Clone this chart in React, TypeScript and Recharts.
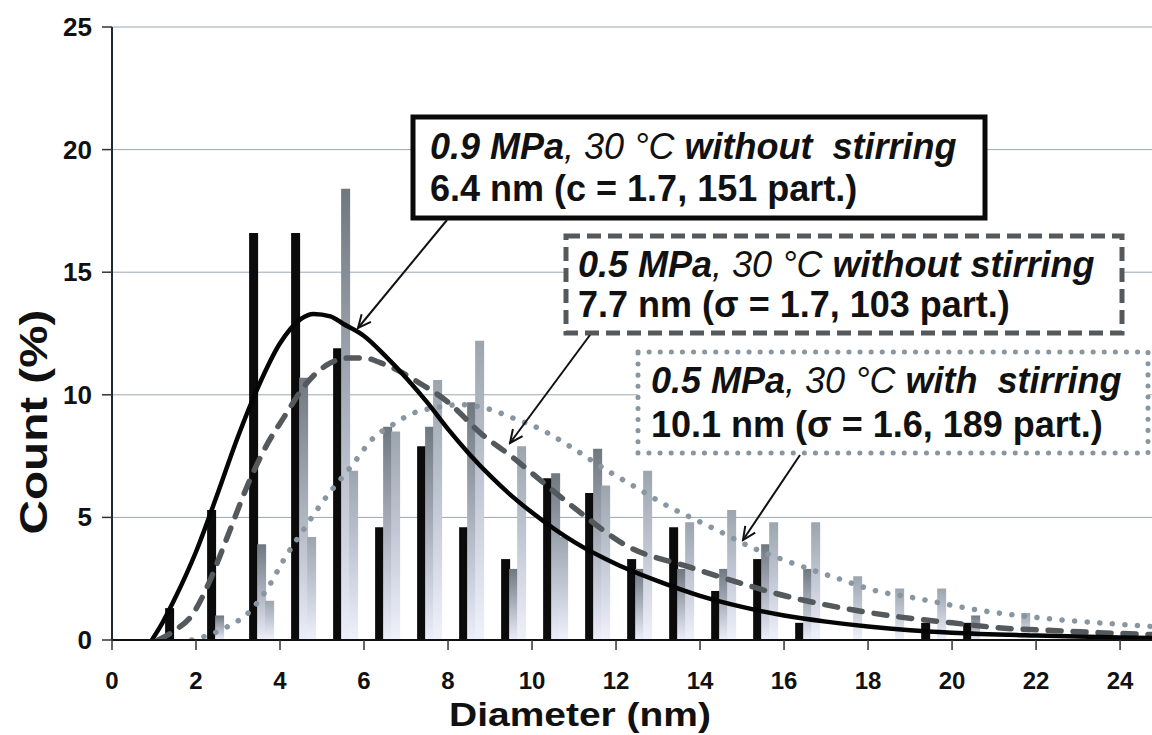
import React from 'react';
import { ComposedChart, Bar, Line, XAxis, YAxis, CartesianGrid } from 'recharts';

// Histogram bins (cluster centres, nm) and counts (%)
const binCenters = [1.55, 2.55, 3.55, 4.55, 5.55, 6.55, 7.55, 8.55, 9.55, 10.55, 11.55, 12.55, 13.55, 14.55, 15.55, 16.55, 17.55, 18.55, 19.55, 20.55, 21.55];
const count09NoStir = [1.3, 5.3, 16.6, 16.6, 11.9, 4.6, 7.9, 4.6, 3.3, 6.6, 6.0, 3.3, 4.6, 2.0, 3.3, 0.7, 0, 0, 0.7, 0.7, 0];
const count05NoStir = [0, 1.0, 3.9, 10.7, 18.4, 8.7, 8.7, 9.7, 2.9, 6.8, 7.8, 2.9, 2.9, 2.9, 3.9, 2.9, 0, 0, 0, 1.0, 0];
const count05Stir = [0, 0, 1.6, 4.2, 6.9, 8.5, 10.6, 12.2, 7.9, 4.2, 6.3, 6.9, 4.8, 5.3, 4.8, 4.8, 2.6, 2.1, 2.1, 0, 1.1];

// Log-normal fit curves
const fit09X = [0.95, 1.2, 1.5, 2.0, 2.5, 3.0, 3.5, 4.0, 4.5, 4.8, 5.2, 5.5, 6.0, 6.5, 7.0, 7.5, 8.0, 8.5, 9.0, 9.5, 10, 11, 12, 13, 14, 15, 16, 17, 18, 19, 20, 22, 24, 24.76];
const fit09Y = [0, 0.7, 1.7, 3.6, 5.9, 8.3, 10.4, 12.1, 13.1, 13.3, 13.2, 12.9, 12.4, 11.6, 10.7, 9.7, 8.6, 7.6, 6.7, 5.9, 5.2, 4.0, 3.1, 2.4, 1.8, 1.35, 1.0, 0.75, 0.55, 0.4, 0.3, 0.18, 0.1, 0.08];
const fit05NoStirX = [1.1, 1.5, 1.9, 2.3, 2.7, 3.3, 3.7, 4.1, 4.6, 5.2, 5.6, 6.0, 6.4, 6.8, 7.3, 8.0, 8.8, 9.5, 10.0, 11.0, 12.3, 13.7, 15.0, 15.8, 17.4, 18.7, 20.0, 21.1, 22.5, 23.5, 24.76];
const fit05NoStirY = [0, 0.4, 1.0, 2.3, 4.0, 6.6, 8.0, 9.1, 10.4, 11.3, 11.5, 11.5, 11.3, 11.0, 10.5, 9.7, 8.4, 7.5, 6.8, 5.4, 3.8, 3.0, 2.3, 1.9, 1.3, 0.95, 0.7, 0.5, 0.38, 0.3, 0.22];
const fit05StirX = [1.9, 2.3, 2.7, 3.3, 3.7, 4.1, 4.6, 5.0, 5.75, 6.2, 6.7, 7.1, 7.8, 8.3, 8.8, 9.55, 10.2, 10.9, 11.8, 12.3, 13.3, 13.9, 14.5, 15.2, 16.1, 17.3, 18.2, 19.0, 20.7, 22.1, 23.5, 24.76];
const fit05StirY = [0, 0.2, 0.5, 1.2, 2.1, 3.3, 4.6, 5.6, 7.2, 8.2, 8.8, 9.2, 9.5, 9.6, 9.5, 9.05, 8.6, 7.9, 6.9, 6.4, 5.4, 4.9, 4.4, 3.8, 3.2, 2.5, 2.0, 1.75, 1.2, 0.9, 0.7, 0.55];

const xTicks = [0, 2, 4, 6, 8, 10, 12, 14, 16, 18, 20, 22, 24];
const yTicks = [0, 5, 10, 15, 20, 25];

const barData = binCenters.map((x, i) => ({ x, a: count09NoStir[i], b: count05NoStir[i], c: count05Stir[i] }));
const toPts = (xs: number[], ys: number[]) => xs.map((x, i) => ({ x, y: ys[i] }));
const fit09 = toPts(fit09X, fit09Y);
const fit05NoStir = toPts(fit05NoStirX, fit05NoStirY);
const fit05Stir = toPts(fit05StirX, fit05StirY);

const FONT = '"Liberation Sans", Arial, Helvetica, sans-serif';

const XTick = (props: any) => {
  const { x, y, payload } = props;
  return (
    <text x={x} y={y + 37} textAnchor="middle" fontSize={24} fontWeight="bold" fontFamily={FONT} fill="#111">
      {payload.value}
    </text>
  );
};

const YTick = (props: any) => {
  const { x, y, payload } = props;
  return (
    <text x={x - 8} y={y + 9} textAnchor="end" fontSize={26} fontWeight="bold" fontFamily={FONT} fill="#111">
      {payload.value}
    </text>
  );
};

const boxText = { fontFamily: FONT, fontSize: 36, fill: '#111' } as const;

export default function App() {
  return (
    <div style={{ position: 'absolute', left: 0, top: 0, width: 1152, height: 735, background: '#fff', overflow: 'hidden' }}>
      <ComposedChart width={1152} height={735} data={barData} margin={{ top: 27, right: 0, bottom: 0, left: 0 }} barGap={-1}>
        <defs>
          <linearGradient id="gB" x1="0" y1="0" x2="0" y2="1">
            <stop offset="0" stopColor="#6f777f" />
            <stop offset="0.5" stopColor="#abb2be" />
            <stop offset="1" stopColor="#eceefa" />
          </linearGradient>
          <linearGradient id="gC" x1="0" y1="0" x2="0" y2="1">
            <stop offset="0" stopColor="#9ca5ae" />
            <stop offset="0.5" stopColor="#c3c9d6" />
            <stop offset="1" stopColor="#f0f2fb" />
          </linearGradient>
        </defs>
        <CartesianGrid vertical={false} stroke="#9aa8b3" strokeWidth={1} />
        <XAxis
          type="number"
          dataKey="x"
          domain={[0, 24.76]}
          allowDataOverflow
          ticks={xTicks}
          interval={0}
          height={95}
          tickSize={10}
          tick={<XTick />}
          axisLine={{ stroke: '#111', strokeWidth: 2 }}
          tickLine={{ stroke: '#333', strokeWidth: 1.5 }}
        />
        <XAxis xAxisId="fit" type="number" dataKey="x" domain={[0, 24.76]} allowDataOverflow hide />
        <YAxis
          type="number"
          domain={[0, 25]}
          allowDataOverflow
          ticks={yTicks}
          interval={0}
          width={112}
          tickSize={10}
          tick={<YTick />}
          axisLine={{ stroke: '#1d2a30', strokeWidth: 2 }}
          tickLine={{ stroke: '#333', strokeWidth: 1.5 }}
        />
        <Bar dataKey="a" fill="#0b0b0b" barSize={9} isAnimationActive={false} />
        <Bar dataKey="b" fill="url(#gB)" barSize={9} isAnimationActive={false} />
        <Bar dataKey="c" fill="url(#gC)" barSize={9} isAnimationActive={false} />
        <Line xAxisId="fit" data={fit05Stir} dataKey="y" type="monotone" stroke="#8896a1" strokeWidth={5.5} strokeDasharray="0.1 12.5" strokeLinecap="round" dot={false} isAnimationActive={false} />
        <Line xAxisId="fit" data={fit05NoStir} dataKey="y" type="monotone" stroke="#54595d" strokeWidth={5.5} strokeDasharray="13 12" strokeLinecap="round" dot={false} isAnimationActive={false} />
        <Line xAxisId="fit" data={fit09} dataKey="y" type="monotone" stroke="#050505" strokeWidth={4.5} dot={false} isAnimationActive={false} />
      </ComposedChart>
      <svg width={1152} height={735} style={{ position: 'absolute', left: 0, top: 0, pointerEvents: 'none' }}>
        <defs>
          <marker id="arr" markerUnits="userSpaceOnUse" markerWidth={16} markerHeight={14} refX={14} refY={7} orient="auto">
            <path d="M1,1 L14,7 L1,13" fill="none" stroke="#111" strokeWidth={2} />
          </marker>
        </defs>
        {/* axis titles */}
        <text x={580} y={726} textAnchor="middle" fontFamily={FONT} fontSize={33} fontWeight="bold" fill="#111" textLength={262} lengthAdjust="spacingAndGlyphs">Diameter (nm)</text>
        <text transform="translate(47,422) rotate(-90)" textAnchor="middle" fontFamily={FONT} fontSize={38} fontWeight="bold" fill="#111" textLength={225} lengthAdjust="spacingAndGlyphs">Count (%)</text>

        {/* box 1 */}
        <rect x={413} y={117} width={572} height={101} fill="#fff" stroke="#0a0a0a" strokeWidth={5} />
        <text x={430} y={159} {...boxText}>
          <tspan fontWeight="bold" fontStyle="italic">0.9 MPa</tspan>
          <tspan fontStyle="italic">, 30 °C </tspan>
          <tspan fontWeight="bold" fontStyle="italic">{'without\u00A0 stirring'}</tspan>
        </text>
        <text x={430} y={201} {...boxText} fontWeight="bold">6.4 nm (c = 1.7, 151 part.)</text>

        {/* box 2 */}
        <rect x={566} y={236} width={556} height={97} fill="#fff" stroke="#54595d" strokeWidth={5} strokeDasharray="14 7" />
        <text x={578} y={277} {...boxText}>
          <tspan fontWeight="bold" fontStyle="italic">0.5 MPa</tspan>
          <tspan fontStyle="italic">, 30 °C </tspan>
          <tspan fontWeight="bold" fontStyle="italic">without stirring</tspan>
        </text>
        <text x={578} y={317} {...boxText} fontWeight="bold">7.7 nm (σ = 1.7, 103 part.)</text>

        {/* box 3 */}
        <rect x={638} y={352} width={510} height={101} fill="#fff" stroke="#8896a1" strokeWidth={5} strokeDasharray="0.1 11" strokeLinecap="round" />
        <text x={651} y={393} {...boxText}>
          <tspan fontWeight="bold" fontStyle="italic">0.5 MPa</tspan>
          <tspan fontStyle="italic">, 30 °C </tspan>
          <tspan fontWeight="bold" fontStyle="italic">{'with\u00A0 stirring'}</tspan>
        </text>
        <text x={651} y={437} {...boxText} fontWeight="bold">10.1 nm (σ = 1.6, 189 part.)</text>

        {/* arrows */}
        <line x1={447} y1={220} x2={358} y2={328} stroke="#111" strokeWidth={2} markerEnd="url(#arr)" />
        <line x1={590} y1={335} x2={510} y2={443} stroke="#111" strokeWidth={2} markerEnd="url(#arr)" />
        <line x1={800} y1={455} x2={743} y2={540} stroke="#111" strokeWidth={2} markerEnd="url(#arr)" />
      </svg>
    </div>
  );
}
